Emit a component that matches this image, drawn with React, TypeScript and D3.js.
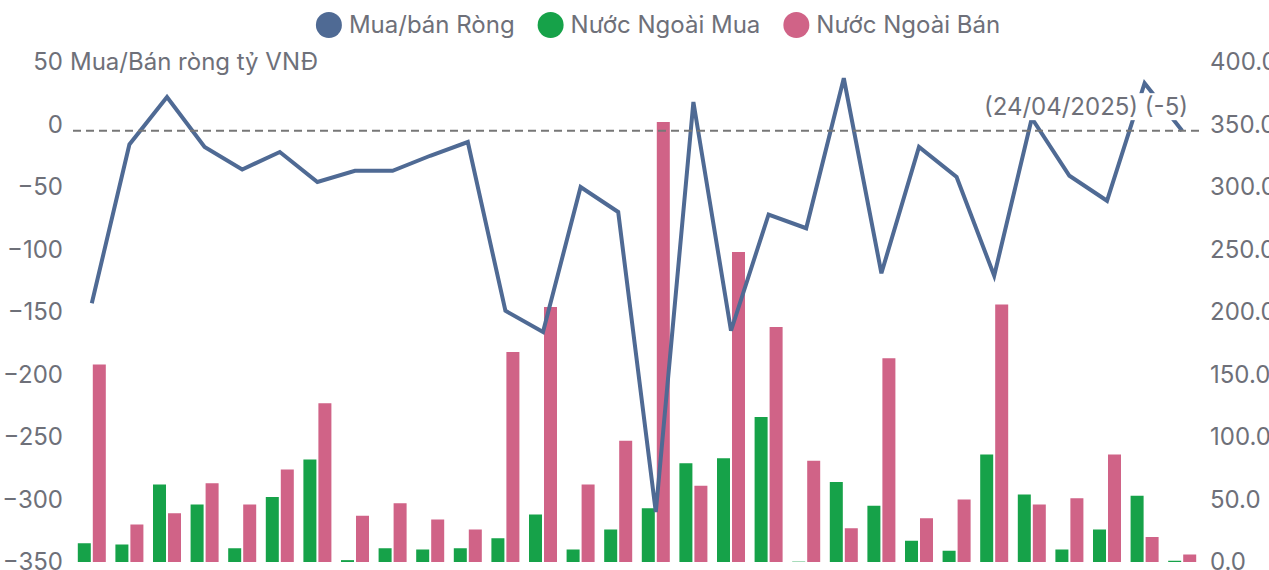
import { axisLeft, axisRight, scaleBand, scaleLinear, select, line as d3Line, format } from 'd3';
import { useEffect, useRef } from 'react';

// trading days, last one is the annotated 24/04/2025
const dates = [
  '13/03/2025', '14/03/2025', '17/03/2025', '18/03/2025', '19/03/2025', '20/03/2025',
  '21/03/2025', '24/03/2025', '25/03/2025', '26/03/2025', '27/03/2025', '28/03/2025',
  '31/03/2025', '01/04/2025', '02/04/2025', '03/04/2025', '04/04/2025', '08/04/2025',
  '09/04/2025', '10/04/2025', '11/04/2025', '14/04/2025', '15/04/2025', '16/04/2025',
  '17/04/2025', '18/04/2025', '21/04/2025', '22/04/2025', '23/04/2025', '24/04/2025',
];

// Mua/bán ròng (left axis, tỷ VNĐ)
const netValues = [
  -143, -16, 22, -18, -36, -22, -46, -37, -37, -25, -14, -149, -166, -50, -70,
  -310, 18, -165, -72, -83, 37, -119, -18, -42, -121, 5, -41, -61, 33, -5,
];

// Nước Ngoài Mua (right axis)
const foreignBuy = [
  15, 14, 62, 46, 11, 52, 82, 1.5, 11, 10, 11, 19, 38, 10, 26,
  43, 79, 83, 116, 0.3, 64, 45, 17, 9, 86, 54, 10, 26, 53, 1,
];

// Nước Ngoài Bán (right axis)
const foreignSell = [
  158, 30, 39, 63, 46, 74, 127, 37, 47, 34, 26, 168, 204, 62, 97,
  352, 61, 248, 188, 81, 27, 163, 35, 50, 206, 46, 51, 86, 20, 6,
];

const leftTicks = [-350, -300, -250, -200, -150, -100, -50, 0, 50];
const rightTicks = [0, 50, 100, 150, 200, 250, 300, 350, 400];

const legendItems = [
  { name: 'Mua/bán Ròng', color: '#4f6a94' },
  { name: 'Nước Ngoài Mua', color: '#16a249' },
  { name: 'Nước Ngoài Bán', color: '#d06387' },
];

const FONT = 'Inter, Roboto, sans-serif';
const FONT_SIZE = '24px';
const TEXT_COLOR = '#6e7079';

const App = () => {
  const svgElem = useRef<SVGSVGElement>(null);

  useEffect(() => {
    if (!svgElem.current) {
      return;
    }
    document.body.style.margin = '0';

    const width = 1269;
    const height = 570;
    const MARGINS = { top: 62, right: 68, bottom: 8, left: 73 };

    const svg = select(svgElem.current);
    svg.selectAll('*').remove();

    const xScale = scaleBand<string>()
      .domain(dates)
      .range([MARGINS.left, width - MARGINS.right]);
    const inner = scaleBand<string>()
      .domain(['buy', 'sell'])
      .range([0, xScale.bandwidth()])
      .paddingInner(0.133)
      .paddingOuter(0.32);
    const yLeft = scaleLinear()
      .domain([-350, 50])
      .range([height - MARGINS.bottom, MARGINS.top]);
    const yRight = scaleLinear()
      .domain([0, 400])
      .range([height - MARGINS.bottom, MARGINS.top]);

    // axes (labels only)
    const gLeft = svg
      .append('g')
      .attr('transform', `translate(${MARGINS.left}, 0)`)
      .call(axisLeft(yLeft).tickValues(leftTicks).tickSize(0).tickPadding(10));
    const gRight = svg
      .append('g')
      .attr('transform', `translate(${width - MARGINS.right}, 0)`)
      .call(
        axisRight(yRight)
          .tickValues(rightTicks)
          .tickSize(0)
          .tickPadding(9)
          .tickFormat((d) => format('.1f')(d as number)),
      );
    [gLeft, gRight].forEach((g) => {
      g.select('.domain').remove();
      g.selectAll('text')
        .style('font-family', FONT)
        .style('font-size', FONT_SIZE)
        .attr('fill', TEXT_COLOR);
    });

    // y-axis name
    svg
      .append('text')
      .attr('x', 70)
      .attr('y', yLeft(50))
      .attr('dy', '0.35em')
      .style('font-family', FONT)
      .style('font-size', FONT_SIZE)
      .attr('fill', TEXT_COLOR)
      .text('Mua/Bán ròng tỷ VNĐ');

    // bars
    const bars = svg.append('g');
    bars
      .selectAll('rect.buy')
      .data(foreignBuy)
      .join('rect')
      .attr('class', 'buy')
      .attr('x', (_, i) => (xScale(dates[i]) ?? 0) + (inner('buy') ?? 0))
      .attr('width', inner.bandwidth())
      .attr('y', (d) => yRight(d))
      .attr('height', (d) => yRight(0) - yRight(d))
      .attr('fill', legendItems[1].color);
    bars
      .selectAll('rect.sell')
      .data(foreignSell)
      .join('rect')
      .attr('class', 'sell')
      .attr('x', (_, i) => (xScale(dates[i]) ?? 0) + (inner('sell') ?? 0))
      .attr('width', inner.bandwidth())
      .attr('y', (d) => yRight(d))
      .attr('height', (d) => yRight(0) - yRight(d))
      .attr('fill', legendItems[2].color);

    // net line
    const line = d3Line<number>()
      .x((_, i) => (xScale(dates[i]) ?? 0) + xScale.bandwidth() / 2)
      .y((d) => yLeft(d));
    svg
      .append('path')
      .attr('d', line(netValues))
      .attr('fill', 'none')
      .attr('stroke', legendItems[0].color)
      .attr('stroke-width', 4);

    // mark line at the last value
    const lastIdx = netValues.length - 1;
    const lastVal = netValues[lastIdx];
    svg
      .append('line')
      .attr('x1', MARGINS.left)
      .attr('x2', width - MARGINS.right)
      .attr('y1', yLeft(lastVal))
      .attr('y2', yLeft(lastVal))
      .attr('stroke', '#777')
      .attr('stroke-width', 2)
      .attr('stroke-dasharray', '8,5');

    const labelG = svg.append('g');
    const labelBg = labelG.append('rect').attr('fill', '#fff');
    const label = labelG
      .append('text')
      .attr('x', 1188)
      .attr('y', yLeft(lastVal) - 24)
      .attr('dy', '0.35em')
      .attr('text-anchor', 'end')
      .style('font-family', FONT)
      .style('font-size', FONT_SIZE)
      .attr('fill', TEXT_COLOR)
      .text(`(${dates[lastIdx]}) (${lastVal})`);
    const bb = (label.node() as SVGTextElement).getBBox();
    labelBg
      .attr('x', bb.x - 2)
      .attr('y', bb.y + 1)
      .attr('width', bb.width + 4)
      .attr('height', bb.height - 2);

    // legend
    const legend = svg.append('g');
    let cursor = 0;
    legendItems.forEach((item) => {
      const g = legend.append('g').attr('transform', `translate(${cursor}, 0)`);
      g.append('circle').attr('cx', 13).attr('cy', 25).attr('r', 13).attr('fill', item.color);
      const t = g
        .append('text')
        .attr('x', 33)
        .attr('y', 25)
        .attr('dy', '0.35em')
        .style('font-family', FONT)
        .style('font-size', FONT_SIZE)
        .attr('fill', TEXT_COLOR)
        .text(item.name);
      cursor += 33 + (t.node() as SVGTextElement).getComputedTextLength() + 23;
    });
    const legendW = cursor - 23;
    legend.attr('transform', `translate(${658 - legendW / 2}, 0)`);
  }, []);

  return <svg ref={svgElem} width={1269} height={570} style={{ display: 'block' }} />;
};

export default App;
